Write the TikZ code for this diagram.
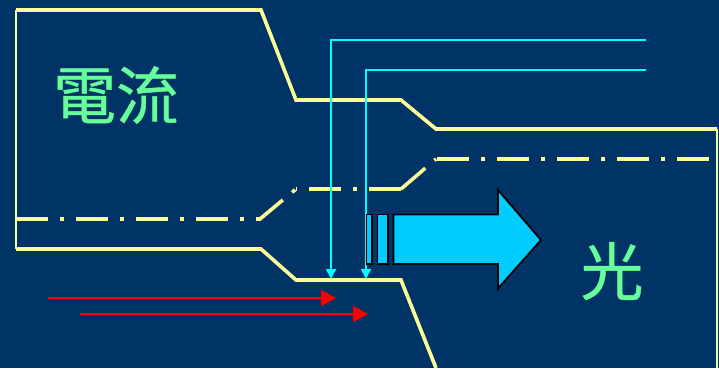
\documentclass[tikz,border=0pt]{standalone}
\usepackage{fontspec}
\newfontfamily\cjk[FakeBold=0.6]{Noto Sans CJK TC}
\usetikzlibrary{arrows.meta}
\definecolor{bgc}{HTML}{003366}
\definecolor{wall}{HTML}{FFFF99}
\definecolor{txtc}{HTML}{66FF99}
\definecolor{ray}{HTML}{00FFFF}
\definecolor{beam}{HTML}{00CCFF}
\tikzset{
  wallthick/.style={draw=wall,line width=3.6pt,line join=miter},
  wallthin/.style={draw=wall,line width=2pt},
  axisbase/.style={draw=wall,line width=3.6pt},
  axisline/.style={axisbase,dash pattern=on 32pt off 12pt on 4pt off 12pt},
  rayline/.style={draw=ray,line width=1.8pt,-{Triangle[length=10pt,width=10pt,fill=ray]}},
  current/.style={draw=red,line width=1.8pt,-{Triangle[length=15pt,width=16pt,fill=red]}},
  beambox/.style={draw=black,line width=1.8pt,fill=beam,line join=miter},
  label/.style={text=txtc,inner sep=0pt,font=\cjk\fontsize{63}{63}\selectfont}
}
\begin{document}
\begin{tikzpicture}[x=1pt,y=-1pt]
\useasboundingbox (0,0) rectangle (719,368);
\fill[bgc] (0,0) rectangle (719,368);
% walls
\draw[wallthin] (16,10) -- (16,249);
\draw[wallthin] (716.5,129) -- (716.5,368);
\draw[wallthick] (16,10) -- (261,10) -- (296,100) -- (401,100) -- (436,129) -- (717,129);
\draw[wallthick] (16,249) -- (261,249) -- (296,280) -- (401,280) -- (436,368);
% axis, dash phase set on each leg
\draw[axisline] (16,219) -- (260,219);
\draw[axisbase,dash pattern=on 31pt off 12pt on 4pt off 100pt] (259,219.8) -- (296,189);
\draw[axisline,dash phase=47pt] (296,189) -- (401,189);
\draw[axisbase,dash pattern=on 32pt off 12pt on 3pt off 100pt] (401,189) -- (436,159);
\draw[axisline] (437,159) -- (709,159);
% rays
\coordinate (r1s) at (646,40); \coordinate (r1c) at (331,40); \coordinate (r1e) at (331,279);
\coordinate (r2s) at (646,70); \coordinate (r2c) at (366,70); \coordinate (r2e) at (366,279);
\draw[rayline] (r1s) -- (r1c) -- (r1e);
\draw[rayline] (r2s) -- (r2c) -- (r2e);
% currents
\coordinate (c1s) at (48,298); \coordinate (c1e) at (336,298);
\coordinate (c2s) at (80,314); \coordinate (c2e) at (368,314);
\draw[current] (c1s) -- (c1e);
\draw[current] (c2s) -- (c2e);
% beam
\draw[beambox] (366.5,214.5) rectangle (372,264);
\draw[beambox] (377.5,214.5) rectangle (388,264);
\draw[beambox] (393.5,214.5) -- (498,214.5) -- (498,190) -- (541,240) -- (498,288.5) -- (498,264) -- (393.5,264) -- cycle;
% labels
\node[label] (dianliu) at (116,95) {電流};
\node[label] (guang) at (612,271) {光};
\end{tikzpicture}
\end{document}
